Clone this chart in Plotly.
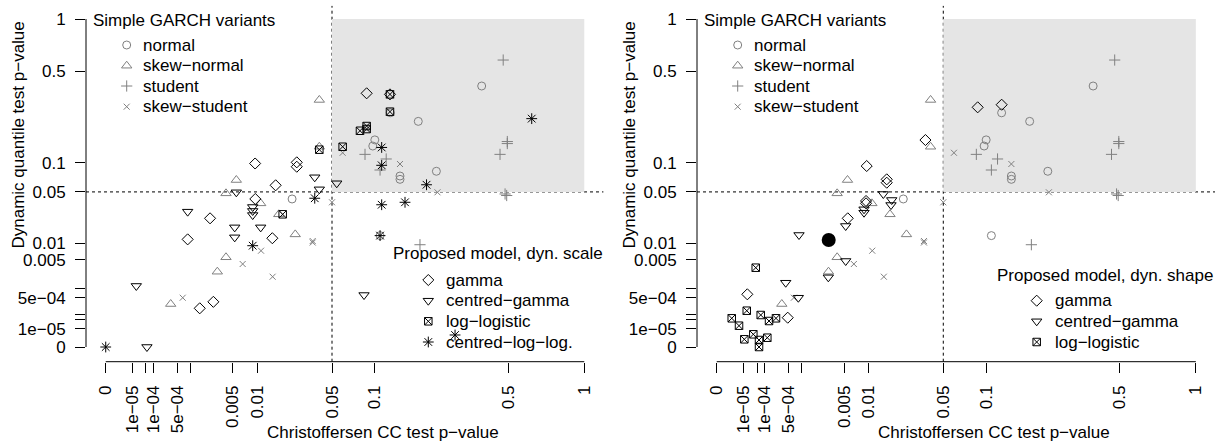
import plotly.graph_objects as go

# ---------------------------------------------------------------
# p-values: (Christoffersen CC test, dynamic quantile test)
# ---------------------------------------------------------------
# Simple GARCH variants (identical in both panels)
normal_cc = [0.0230, 0.381, 0.182, 0.100, 0.097, 0.228, 0.143, 0.143, 0.125, 0.108]
normal_dq = [0.0415, 0.401, 0.224, 0.159, 0.141, 0.0824, 0.0739, 0.0683, 0.260, 0.0133]

skewnorm_cc = [0.00555, 0.00399, 0.0110, 0.0171, 0.0246, 0.00399, 0.00296, 0.00034, 0.0397, 0.0397]
skewnorm_dq = [0.0672, 0.0482, 0.0368, 0.0268, 0.0139, 0.00560, 0.00278, 0.000295, 0.322, 0.139]

student_cc = [0.476, 0.0862, 0.118, 0.108, 0.461, 0.496, 0.496, 0.485, 0.493, 0.186]
student_dq = [0.586, 0.119, 0.108, 0.0848, 0.119, 0.154, 0.148, 0.0474, 0.0455, 0.00946]

skewstud_cc = [0.0601, 0.143, 0.231, 0.0500, 0.0350, 0.0350, 0.0111, 0.00671, 0.0148, 0.00067]
skewstud_dq = [0.123, 0.0969, 0.0495, 0.0379, 0.0109, 0.0103, 0.00743, 0.00410, 0.00211, 0.00051]

# Proposed model, dynamic scale
scale_gamma_cc = [0.0095, 0.0254, 0.0254, 0.0159, 0.00955, 0.00226, 0.00086, 0.0147, 0.00256, 0.00149, 0.0884, 0.1245]
scale_gamma_dq = [0.098, 0.1005, 0.0913, 0.0591, 0.0415, 0.0237, 0.0116, 0.0121, 0.00036, 0.000194, 0.358, 0.352]

scale_cgamma_cc = [0.0364, 0.0397, 0.0543, 0.00555, 0.0089, 0.0089, 0.0089, 0.00086, 0.00528, 0.00528, 0.0110,
                   1.67e-5, 5.5e-5, 0.0849]
scale_cgamma_dq = [0.0717, 0.0534, 0.0621, 0.0495, 0.0332, 0.0296, 0.0262, 0.0290, 0.0177, 0.0125, 0.0177,
                   0.0012, 0.0, 0.00063]

scale_llog_cc = [0.0187, 0.0397, 0.1245, 0.1245, 0.0884, 0.0884, 0.0797, 0.0601]
scale_llog_dq = [0.0268, 0.131, 0.352, 0.265, 0.206, 0.195, 0.189, 0.139]

scale_cll_cc = [0.0364, 0.0089, 0.0, 0.1106, 0.1106, 0.202, 0.1106, 0.153, 0.108, 0.628, 0.284]
scale_cll_dq = [0.0423, 0.0091, 0.0, 0.137, 0.0942, 0.0599, 0.0354, 0.0379, 0.0133, 0.235, 1.8e-6]

# Proposed model, dynamic shape
shape_gamma_cc = [0.0360, 0.0096, 0.01585, 0.01585, 0.00943, 0.00943, 0.00559, 1.66e-5, 0.000482, 0.0880, 0.1251]
shape_gamma_dq = [0.1586, 0.0927, 0.0683, 0.0630, 0.0393, 0.0368, 0.0237, 0.000667, 6.37e-5, 0.2852, 0.2978]

shape_cgamma_cc = [0.01462, 0.01779, 0.0175, 0.00893, 0.00893, 0.00525, 0.000869, 0.00525, 0.002942, 0.00043, 0.000841]
shape_cgamma_dq = [0.04736, 0.04035, 0.03512, 0.03106, 0.02812, 0.01852, 0.0136, 0.004727, 0.00204, 0.001476, 0.00051]

shape_llog_cc = [4.39e-5, 1.54e-5, 9.6e-7, 4.69e-6, 7.11e-5, 0.000142, 0.000234, 1.1e-5, 3.4e-5, 6.07e-5, 6.07e-5, 0.000124]
shape_llog_dq = [0.003418, 0.00015, 5.86e-5, 1.78e-5, 9.06e-5, 3.95e-5, 5.86e-5, 3.04e-7, 2.25e-6, 2.07e-7, 0.0, 6.46e-7]

# highlighted model in the dynamic-shape panel
highlight_cc = [0.002983]
highlight_dq = [0.011326]

# axis ticks (p-values) and their labels
tick_p = [0, 1e-5, 5e-5, 1e-4, 5e-4, 1e-3, 5e-3, 0.01, 0.05, 0.1, 0.5, 1]
x_ticktext = ["0", "1e\u221205", "", "1e\u221204", "5e\u221204", "", "0.005", "0.01", "0.05", "0.1", "0.5", "1"]
y_ticktext = ["0", "1e\u221205", "", "", "5e\u221204", "", "0.005", "0.01", "0.05", "0.1", "0.5", "1"]

threshold = 0.05


def q(values):
    """Fourth-root scale used on both axes."""
    return [v ** 0.25 for v in values]


# ---------------------------------------------------------------
# styling
# ---------------------------------------------------------------
FONT = "Liberation Sans, Arial, Helvetica, sans-serif"
FS = 17
GREY = "#808080"
BLACK = "#000000"
SHADE = "#e5e5e5"

W, H = 1215, 441
PANEL_X = [(86.0, 603.4), (697.0, 1215.0)]
PANEL_Y = (361.7, 5.9)
XR = [-0.0412, 1.04]
YR = [-0.0448, 1.04]

SYM = {
    "normal": dict(symbol="circle-open", size=8, color=GREY),
    "skew-normal": dict(symbol="triangle-up-open", size=9, color=GREY),
    "student": dict(symbol="cross-thin-open", size=8, color=GREY),
    "skew-student": dict(symbol="x-thin-open", size=6, color=GREY),
    "gamma": dict(symbol="diamond-open", size=8.5, color=BLACK),
    "centred-gamma": dict(symbol="triangle-down-open", size=9, color=BLACK),
    "log-logistic": dict(symbol="square-x-open", size=7.5, color=BLACK),
    "centred-log-log": dict(symbol="asterisk-open", size=9, color=BLACK),
}


def marker(kind):
    s = SYM[kind]
    return dict(symbol=s["symbol"], size=s["size"], color=s["color"],
                line=dict(color=s["color"], width=1))


fig = go.Figure()


def add_points(cc, dq, kind, xa, ya):
    fig.add_trace(go.Scatter(x=q(cc), y=q(dq), mode="markers", marker=marker(kind),
                             xaxis=xa, yaxis=ya, showlegend=False, hoverinfo="skip",
                             cliponaxis=False))


garch = [
    (normal_cc, normal_dq, "normal"),
    (skewnorm_cc, skewnorm_dq, "skew-normal"),
    (student_cc, student_dq, "student"),
    (skewstud_cc, skewstud_dq, "skew-student"),
]

# left panel: dynamic scale
for cc, dq, kind in garch:
    add_points(cc, dq, kind, "x", "y")
for cc, dq, kind in [
    (scale_gamma_cc, scale_gamma_dq, "gamma"),
    (scale_cgamma_cc, scale_cgamma_dq, "centred-gamma"),
    (scale_llog_cc, scale_llog_dq, "log-logistic"),
    (scale_cll_cc, scale_cll_dq, "centred-log-log"),
]:
    add_points(cc, dq, kind, "x", "y")

# right panel: dynamic shape
for cc, dq, kind in garch:
    add_points(cc, dq, kind, "x2", "y2")
for cc, dq, kind in [
    (shape_gamma_cc, shape_gamma_dq, "gamma"),
    (shape_cgamma_cc, shape_cgamma_dq, "centred-gamma"),
    (shape_llog_cc, shape_llog_dq, "log-logistic"),
]:
    add_points(cc, dq, kind, "x2", "y2")
fig.add_trace(go.Scatter(x=q(highlight_cc), y=q(highlight_dq), mode="markers",
                         marker=dict(symbol="circle", size=14, color=BLACK),
                         xaxis="x2", yaxis="y2", showlegend=False, hoverinfo="skip"))

# ---------------------------------------------------------------
# legend blocks, drawn on a full-figure pixel overlay (x3 / y3)
# ---------------------------------------------------------------
garch_names = [("normal", "normal"), ("skew-normal", "skew\u2212normal"),
               ("student", "student"), ("skew-student", "skew\u2212student")]
legend_blocks = [
    # title, title x, title y, key x, text x, row ys, entries
    ("Simple GARCH variants", 91, 20, 126.7, 141, [45, 65.7, 86, 106.7], garch_names),
    ("Simple GARCH variants", 702, 20, 737.7, 752, [45, 65.7, 86, 106.7], garch_names),
    ("Proposed model, dyn. scale", 391, 253.3, 428.3, 444, [280, 300.7, 321.3, 342],
     [("gamma", "gamma"), ("centred-gamma", "centred\u2212gamma"),
      ("log-logistic", "log\u2212logistic"), ("centred-log-log", "centred\u2212log\u2212log.")]),
    ("Proposed model, dyn. shape", 995, 275, 1036.7, 1053.3, [300.7, 321.3, 342],
     [("gamma", "gamma"), ("centred-gamma", "centred\u2212gamma"),
      ("log-logistic", "log\u2212logistic")]),
]

annotations = []
for title, tx, ty, kx, txx, rows, entries in legend_blocks:
    annotations.append(dict(text=title, x=tx, y=ty, xref="x3", yref="y3", xanchor="left",
                            yanchor="middle", showarrow=False, font=dict(size=FS, color=BLACK)))
    for (kind, label), ry in zip(entries, rows):
        fig.add_trace(go.Scatter(x=[kx], y=[ry], mode="markers", marker=marker(kind),
                                 xaxis="x3", yaxis="y3", showlegend=False, hoverinfo="skip"))
        annotations.append(dict(text=label, x=txx, y=ry, xref="x3", yref="y3", xanchor="left",
                                yanchor="middle", showarrow=False, font=dict(size=FS, color=BLACK)))

# axis titles
for off in (0, 611):
    annotations.append(dict(text="Christoffersen CC test p\u2212value", x=383 + off, y=432,
                            xref="x3", yref="y3", xanchor="center", yanchor="middle",
                            showarrow=False, font=dict(size=FS, color=BLACK)))
    annotations.append(dict(text="Dynamic quantile test p\u2212value", x=17.5 + off, y=135,
                            xref="x3", yref="y3", xanchor="center", yanchor="middle",
                            textangle=-90, showarrow=False, font=dict(size=FS, color=BLACK)))

# ---------------------------------------------------------------
# shapes: rejection-free region, 5% thresholds, axis lines
# ---------------------------------------------------------------
shapes = []
t5 = threshold ** 0.25
for xa, ya in (("x", "y"), ("x2", "y2")):
    shapes.append(dict(type="rect", xref=xa, yref=ya, x0=t5, x1=1, y0=t5, y1=1,
                       fillcolor=SHADE, line=dict(width=0), layer="below"))
    shapes.append(dict(type="line", xref=xa, yref=ya + " domain", x0=t5, x1=t5, y0=0, y1=1,
                       line=dict(color=BLACK, width=1, dash="3px,3px"), layer="below"))
    shapes.append(dict(type="line", xref=xa + " domain", yref=ya, x0=0, x1=1, y0=t5, y1=t5,
                       line=dict(color=BLACK, width=1, dash="3px,3px"), layer="below"))
    shapes.append(dict(type="line", xref=xa, yref=ya + " domain", x0=0, x1=1, y0=0, y1=0,
                       line=dict(color=BLACK, width=1)))
    shapes.append(dict(type="line", xref=xa + " domain", yref=ya, x0=0, x1=0, y0=0, y1=1,
                       line=dict(color=BLACK, width=1)))


def xdom(i):
    a, b = PANEL_X[i]
    return [a / W, b / W]


ydom = [1 - PANEL_Y[0] / H, 1 - PANEL_Y[1] / H]

xaxis_common = dict(range=XR, tickmode="array", tickvals=q(tick_p), ticktext=x_ticktext,
                    ticks="outside", ticklen=10, tickwidth=1, tickcolor=BLACK, tickangle=-90,
                    showgrid=False, zeroline=False, showline=False, ticklabelstandoff=6,
                    tickfont=dict(size=FS, color=BLACK), fixedrange=True)
yaxis_common = dict(range=YR, tickmode="array", tickvals=q(tick_p), ticktext=y_ticktext,
                    ticks="outside", ticklen=10, tickwidth=1, tickcolor=BLACK, tickangle=0,
                    showgrid=False, zeroline=False, showline=False, ticklabelstandoff=6,
                    tickfont=dict(size=FS, color=BLACK), fixedrange=True)

fig.update_layout(
    width=W, height=H,
    margin=dict(l=0, r=0, t=0, b=0),
    paper_bgcolor="white", plot_bgcolor="rgba(0,0,0,0)",
    font=dict(family=FONT, size=FS, color=BLACK),
    showlegend=False,
    xaxis=dict(domain=xdom(0), anchor="y", **xaxis_common),
    yaxis=dict(domain=ydom, anchor="x", **yaxis_common),
    xaxis2=dict(domain=xdom(1), anchor="y2", **xaxis_common),
    yaxis2=dict(domain=ydom, anchor="x2", **yaxis_common),
    xaxis3=dict(domain=[0, 1], range=[0, W], visible=False, fixedrange=True, anchor="y3"),
    yaxis3=dict(domain=[0, 1], range=[H, 0], visible=False, fixedrange=True, anchor="x3"),
    shapes=shapes,
    annotations=annotations,
)

fig.write_html("out.html")
